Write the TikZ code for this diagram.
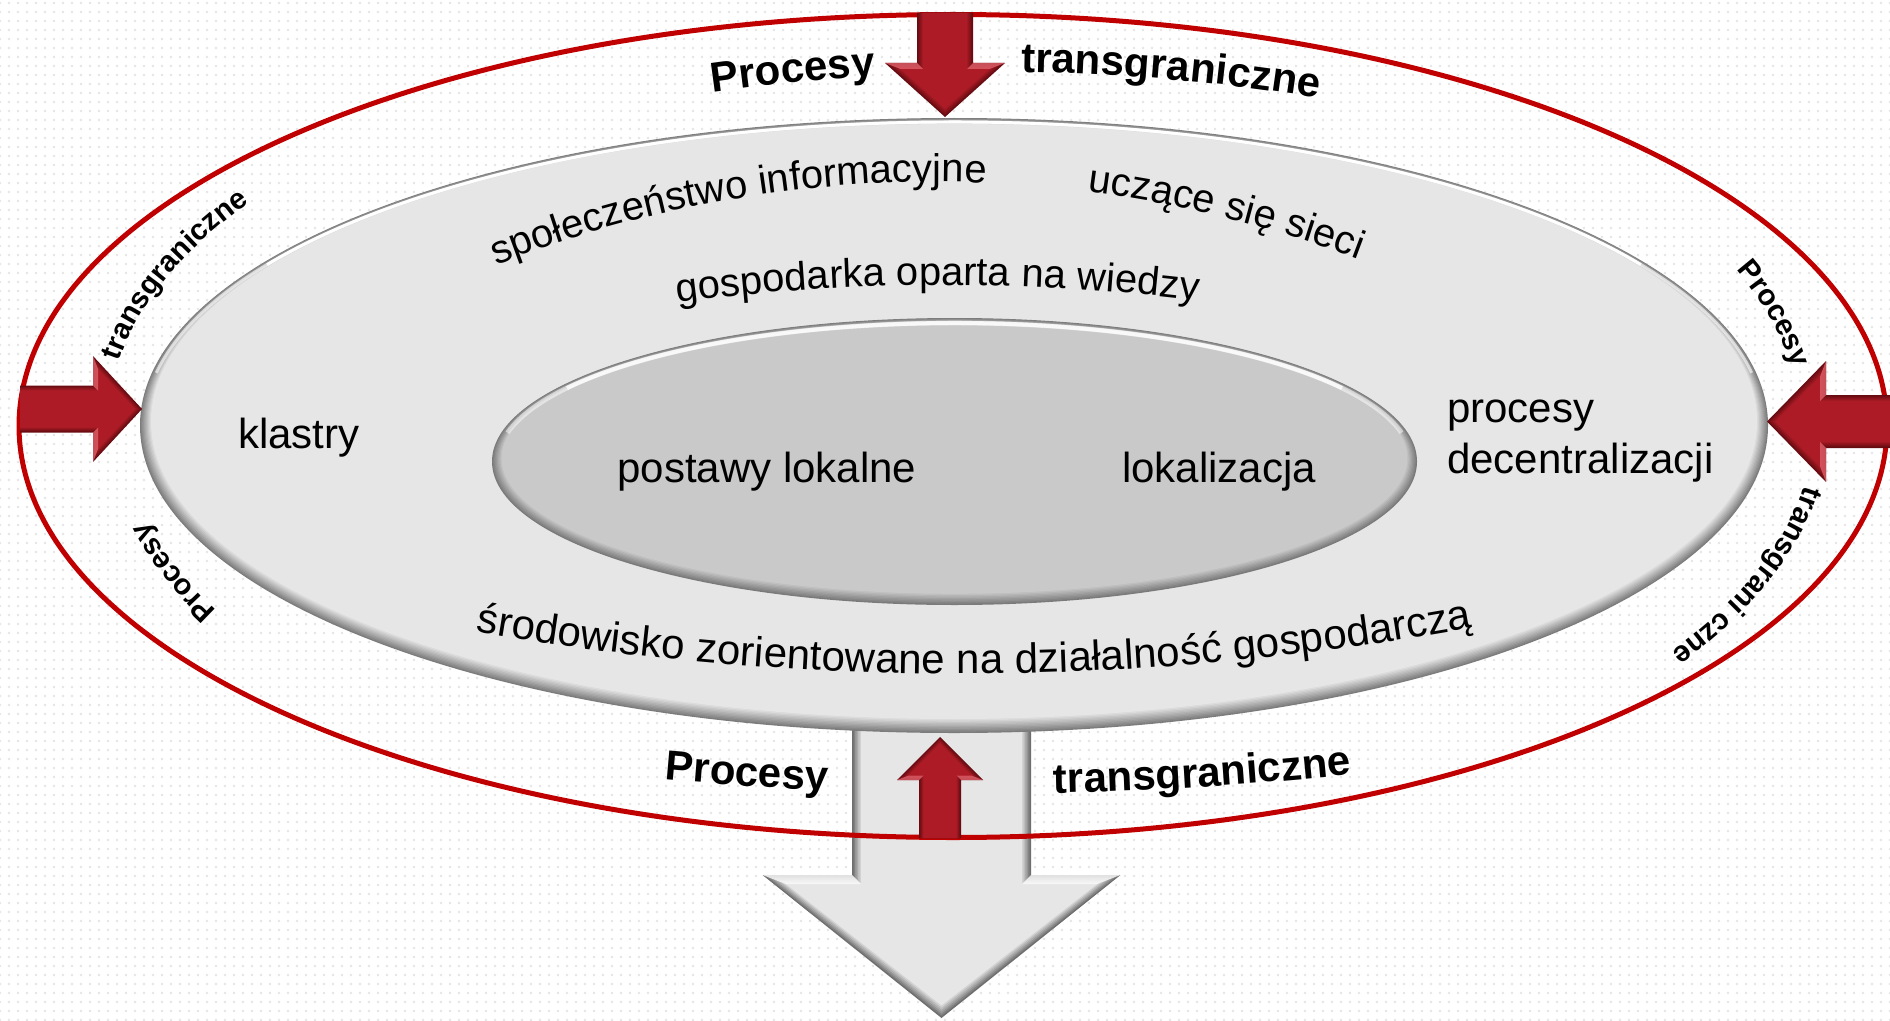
\documentclass[tikz,border=0pt]{standalone}
\usepackage{fontspec}
\setmainfont{Liberation Sans}
\usetikzlibrary{decorations.text,calc,patterns.meta}
\definecolor{redline}{HTML}{C00000}
\definecolor{reddark}{HTML}{650B11}
\definecolor{redmain}{HTML}{AD1C26}
\definecolor{redlight}{HTML}{E0606A}
\definecolor{graydark}{HTML}{6E6E6E}
\definecolor{graymain}{HTML}{E6E6E6}
\definecolor{graylight}{HTML}{FFFFFF}
\definecolor{ellfill}{HTML}{E6E6E6}
\definecolor{elledge}{HTML}{7C7C7C}
\definecolor{innerfill}{HTML}{C9C9C9}
\definecolor{inneredge}{HTML}{7A7A7A}
\newcommand\mybig{\fontsize{31.5}{37.8}\selectfont}
\newcommand\mytop{\fontsize{30}{36}\selectfont}
\newcommand\mylbl{\fontsize{31.5}{37.8}\selectfont\bfseries}
\newcommand\myside{\fontsize{22}{26.4}\selectfont\bfseries}
% arrow outline (pointing +x, tail at origin) inset by #5:
% #1 shaft length, #2 shaft half width, #3 head length, #4 head half width
\newcommand\arrowpath[5]{(0,{-#2+#5}) -- ({#1+#5},{-#2+#5}) -- ({#1+#5},{-#4+2.6*#5}) -- ({#1+#3-1.4*#5},0) -- ({#1+#5},{#4-2.6*#5}) -- ({#1+#5},{#2-#5}) -- (0,{#2-#5}) -- cycle}
% #1 x, #2 y (tail centre), #3 rotation, #4 shaft length, #5 shaft half width,
% #6 head length, #7 head half width, #8 colour prefix, #9 bevel inset
\newcommand\bevarrow[9]{%
\begin{scope}[shift={(#1,#2)},rotate=#3]
\foreach \k in {0,...,6}{
  \pgfmathtruncatemacro\p{\k*100/6}
  \fill[#8main!\p!#8dark] \arrowpath{#4}{#5}{#6}{#7}{\k*#9/6};
}
\fill[#8light,opacity=0.8] (#4,-#7) -- (#4,-#5) -- ({#4+#9},{-#5+#9}) -- ({#4+#9},{-#7+2.6*#9}) -- cycle;
\fill[#8light,opacity=0.8] (#4,#7) -- (#4,#5) -- ({#4+#9},{#5-#9}) -- ({#4+#9},{#7-2.6*#9}) -- cycle;
\end{scope}}
\tikzset{curvtext/.style={decorate,decoration={text along path,text align=center,text={#1}}}}
\begin{document}
\begin{tikzpicture}[x=0.75pt,y=-0.75pt]
\useasboundingbox (0,0) rectangle (1890,1020);
\fill[white] (0,0) rectangle (1890,1020);
\fill[pattern={Dots[distance=6.75pt,radius=1.05pt]},pattern color=black!10] (0,0) rectangle (1890,1020);

% grey outgoing arrow
\bevarrow{941.5}{722}{-90}{153}{89.5}{143}{179}{gray}{9}

% outer red ellipse
\draw[redline,line width=3.75pt] (953,426) ellipse [x radius=934,y radius=411.5];

% big grey ellipse with bevel
\foreach \i in {0,...,10}{
  \pgfmathtruncatemacro\p{\i*10}
  \fill[ellfill!\p!elledge] (954,{425.5-0.4*\i}) ellipse [x radius={814-1.1*\i},y radius={307.5-1.0*\i}];
}
\draw[white,line width=2.2pt,opacity=0.6] ($(954,425.5)+(190:810 and 303.5)$) arc[start angle=190,end angle=350,x radius=810,y radius=303.5];
\draw[white,line width=2.2pt] ($(954,425.5)+(212:810 and 303.5)$) arc[start angle=212,end angle=328,x radius=810,y radius=303.5];

% inner ellipse with bevel
\foreach \i in {0,...,8}{
  \pgfmathtruncatemacro\p{\i*12.5}
  \fill[innerfill!\p!inneredge] (954.5,{461.5-0.4*\i}) ellipse [x radius={462.5-1.2*\i},y radius={143.5-1.0*\i}];
}
\draw[white,line width=3.5pt,opacity=0.5] ($(954.5,461.5)+(192:457 and 138.5)$) arc[start angle=192,end angle=348,x radius=457,y radius=138.5];
\draw[white,line width=3pt,opacity=0.8] ($(954.5,461.5)+(212:457 and 138.5)$) arc[start angle=212,end angle=328,x radius=457,y radius=138.5];

% red arrows
\bevarrow{945}{13}{-90}{50}{28}{54}{60}{red}{6}
\bevarrow{20}{409}{0}{73}{23.5}{49}{53}{red}{5}
\bevarrow{1890}{421.5}{180}{64}{26.5}{59}{60.5}{red}{6}
\bevarrow{940}{838}{90}{58}{21}{43}{43}{red}{4.5}

% texts inside the ellipses
\node[anchor=base west,inner sep=0,font=\mybig] (klastry) at (238,448) {klastry};
\node[anchor=base,inner sep=0,font=\mybig] (postawy) at (767,482) {postawy lokalne};
\node[anchor=base,inner sep=0,font=\mybig] (lokalizacja) at (1219,482) {lokalizacja};
\node[anchor=base west,inner sep=0,font=\mybig] (procesy) at (1447,422) {procesy};
\node[anchor=base west,inner sep=0,font=\mybig] (decentr) at (1447,473) {decentralizacji};

\path[curvtext={|\mytop|społeczeństwo informacyjne}] ($(935,1382)+(245:1200)$) arc[start angle=245,end angle=276,radius=1200];
\path[curvtext={|\mytop|uczące się sieci}] ($(935,1382)+(276:1200)$) arc[start angle=276,end angle=292,radius=1200];
\path[curvtext={|\mytop|gospodarka oparta na wiedzy}] ($(945,2365)+(260.8:2080)$) arc[start angle=260.8,end angle=278.8,radius=2080];
\path[curvtext={|\mybig|środowisko zorientowane na działalność gospodarczą}] ($(962,-2168)+(101.76:2842)$) arc[start angle=101.76,end angle=77.76,radius=2842];

% labels on the outer ring
\path[curvtext={|\mylbl|Procesy}] ($(996,2072)+(258.2:2000)$) arc[start angle=258.2,end angle=270.2,radius=2000];
\path[curvtext={|\mylbl|transgraniczne}] ($(996,2072)+(266:2000)$) arc[start angle=266,end angle=284,radius=2000];
\path[curvtext={|\mylbl|Procesy}] ($(982,-2726)+(97.84:3520)$) arc[start angle=97.84,end angle=89.84,radius=3520];
\path[curvtext={|\mylbl|transgraniczne}] ($(982,-2726)+(90.4:3520)$) arc[start angle=90.4,end angle=82.4,radius=3520];

\path[curvtext={|\myside|transgraniczne}] ($(953,426)+(177.5:845 and 404)$) arc[start angle=177.5,end angle=221.5,x radius=845,y radius=404];
\path[curvtext={|\myside|Procesy}] ($(953,426)+(328:848 and 406)$) arc[start angle=328,end angle=364,x radius=848,y radius=406];
\path[curvtext={|\myside|transgrani czne}] ($(953,426)+(-3:860 and 410)$) arc[start angle=-3,end angle=41,x radius=860,y radius=410];
\path[curvtext={|\myside|Procesy}] ($(953,426)+(143:830 and 400)$) arc[start angle=143,end angle=179,x radius=830,y radius=400];
\end{tikzpicture}
\end{document}
